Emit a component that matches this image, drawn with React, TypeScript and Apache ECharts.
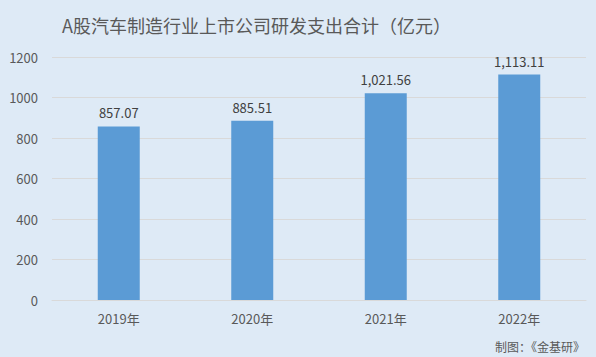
import React, { useEffect, useRef } from "react";
import * as echarts from "echarts";

const categories = ["2019年", "2020年", "2021年", "2022年"];
const values = [857.07, 885.51, 1021.56, 1113.11];
const yTicks = [0, 200, 400, 600, 800, 1000, 1200];

const FONT = "'Noto Sans CJK SC', 'Noto Sans', sans-serif";

export default function App() {
  const ref = useRef<HTMLDivElement>(null);
  useEffect(() => {
    const chart = echarts.init(ref.current!, null, { renderer: "svg" });
    chart.setOption({
      animation: false,
      backgroundColor: "#DEEAF6",
      textStyle: { fontFamily: FONT },
      title: {
        text: "A股汽车制造行业上市公司研发支出合计（亿元）",
        left: 57,
        top: 11,
        textStyle: { fontSize: 18, fontWeight: "normal", color: "#595959", fontFamily: FONT },
      },
      graphic: [
        {
          type: "text",
          right: 11,
          top: 340,
          style: { text: "制图：《金基研》", fontSize: 12, fill: "#595959", fontFamily: FONT },
        },
      ],
      grid: { left: 52, right: 10, top: 57, bottom: 57 },
      xAxis: {
        type: "category",
        data: categories,
        axisLine: { lineStyle: { color: "#D9D9D9" } },
        axisTick: { show: false },
        axisLabel: { color: "#595959", fontSize: 13, margin: 12, fontFamily: FONT },
      },
      yAxis: {
        type: "value",
        min: yTicks[0],
        max: yTicks[yTicks.length - 1],
        interval: 200,
        axisLine: { show: false },
        axisTick: { show: false },
        splitLine: { lineStyle: { color: "#D9D9D9" } },
        axisLabel: {
          color: "#595959",
          fontSize: 13,
          margin: 14,
          fontFamily: FONT,
          formatter: (v: number) => String(v),
        },
      },
      series: [
        {
          type: "bar",
          data: values,
          barWidth: 42,
          itemStyle: { color: "#5B9BD5" },
          label: {
            show: true,
            position: "top",
            distance: 7,
            color: "#404040",
            fontSize: 13,
            fontFamily: FONT,
            formatter: (p: any) =>
              Number(p.value).toLocaleString("en-US", { minimumFractionDigits: 2, maximumFractionDigits: 2 }),
          },
        },
      ],
    });
    return () => chart.dispose();
  }, []);
  return <div ref={ref} style={{ width: 596, height: 357, position: "fixed", left: 0, top: 0 }} />;
}
